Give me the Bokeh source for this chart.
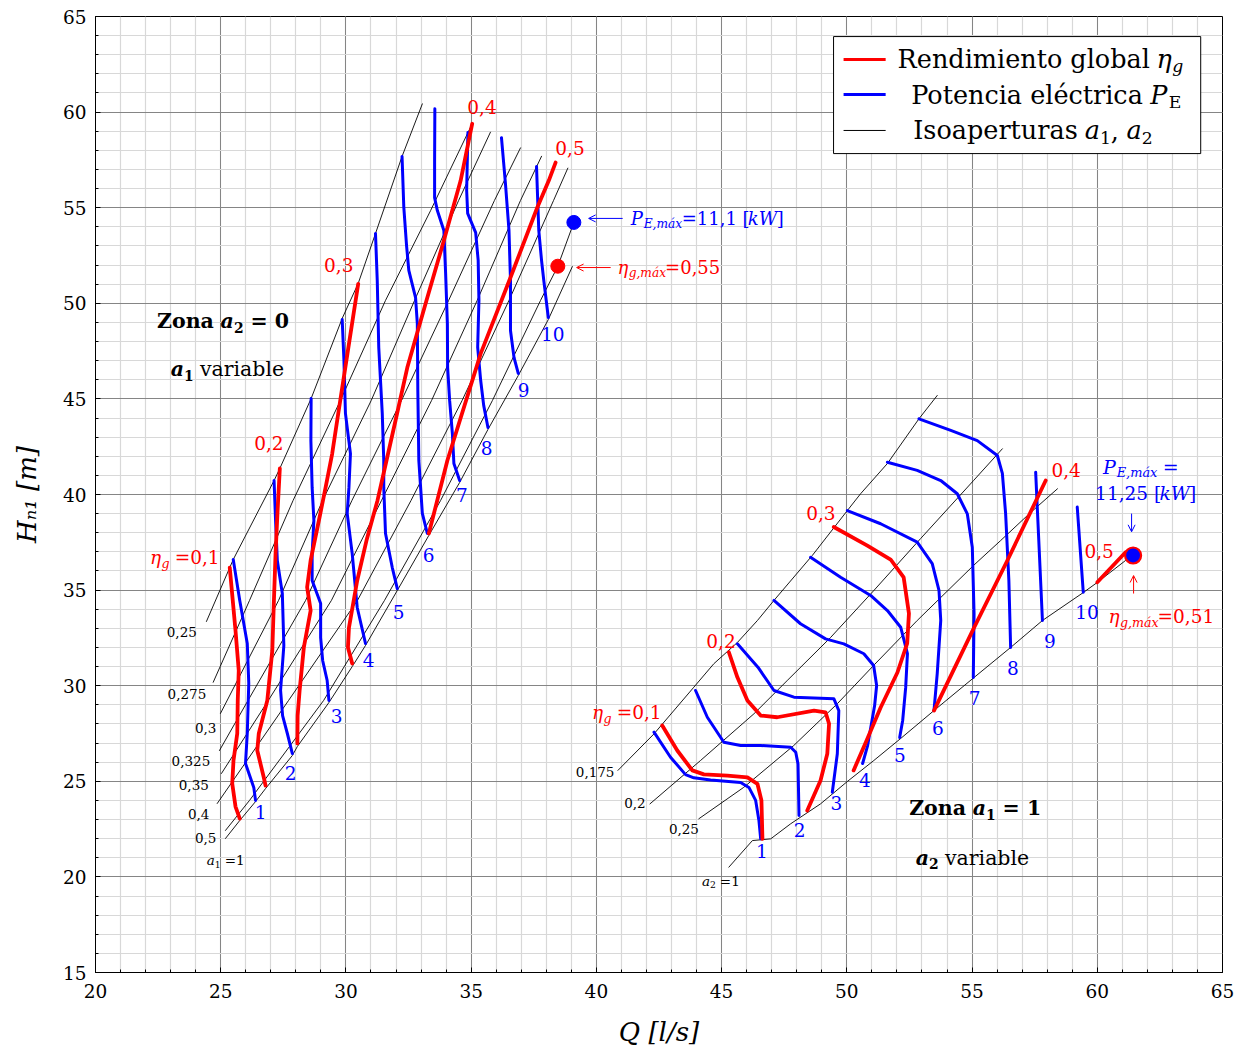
from bokeh.plotting import figure
from bokeh.models import SingleIntervalTicker, Range1d, Arrow, OpenHead
from bokeh.core.properties import value
from bokeh.embed import file_html
from bokeh.resources import INLINE

FONT = "DejaVu Serif"
RED = "#ff0000"
BLUE = "#0000ff"

# ---------------- Zona a2 = 0 (a1 variable) : Q [l/s], H [m] ----------------
# isoaperture lines a1
a1_0250 = [(24.43, 33.36), (25.50, 36.60), (27.13, 40.73), (27.36, 41.36), (28.61, 45.02), (29.85, 49.21),
           (30.49, 51.04), (31.18, 53.65), (32.24, 57.68), (33.05, 60.43)]
a1_0275 = [(24.70, 30.18), (26.15, 34.46), (27.89, 39.69), (29.78, 44.92), (31.58, 50.15), (33.38, 54.85),
           (35.04, 59.39)]
a1_0300 = [(24.99, 28.55), (27.31, 34.46), (29.07, 39.69), (31.01, 44.92), (32.74, 50.15), (34.50, 55.38),
           (35.77, 58.95)]
a1_0325 = [(24.95, 26.61), (26.09, 29.23), (28.39, 34.46), (30.24, 39.69), (32.22, 44.92), (34.10, 50.15),
           (35.93, 55.38), (36.97, 58.13)]
a1_0350 = [(25.03, 25.41), (26.90, 29.23), (29.42, 34.46), (31.42, 39.69), (33.42, 44.92), (35.24, 50.15),
           (36.97, 55.38), (37.81, 57.69)]
a1_0400 = [(24.86, 23.84), (27.71, 29.23), (30.46, 34.46), (32.60, 39.69), (34.64, 44.92), (36.51, 50.15),
           (38.29, 55.38), (38.86, 57.07)]
a1_0500 = [(25.19, 22.43), (26.15, 24.00), (29.11, 29.23), (31.54, 34.46), (33.78, 39.69), (35.85, 44.92),
           (37.77, 50.15), (38.46, 51.94), (39.10, 54.23)]
a1_1000 = [(25.19, 22.01), (25.76, 22.95), (26.39, 23.94), (26.79, 24.62), (27.86, 26.35), (28.06, 26.82),
           (29.32, 29.12), (30.25, 31.00), (30.78, 32.10), (32.05, 34.98), (33.31, 37.86), (34.54, 40.63),
           (35.67, 43.40), (36.88, 46.22), (38.08, 49.15), (39.04, 51.92)]

# electric power P_E [kW]
pe_a_1 = [(25.50, 36.60), (25.76, 34.46), (26.06, 32.21), (26.12, 30.12), (26.06, 27.50), (25.99, 25.93),
          (26.32, 24.68), (26.39, 24.00)]
pe_a_2 = [(27.13, 40.73), (27.19, 38.64), (27.26, 36.55), (27.46, 34.82), (27.52, 32.10), (27.39, 29.75),
          (27.47, 28.44), (27.66, 27.50), (27.86, 26.45)]
pe_a_3 = [(28.61, 45.02), (28.60, 42.82), (28.65, 40.37), (28.72, 38.64), (28.65, 36.91), (28.65, 35.50),
          (28.99, 34.30), (28.99, 32.52), (29.07, 31.32), (29.25, 30.27), (29.32, 29.23)]
pe_a_4 = [(29.85, 49.15), (29.92, 47.01), (29.98, 44.24), (30.18, 42.14), (30.12, 40.37), (30.05, 39.01),
          (30.25, 36.91), (30.45, 34.09), (30.78, 32.21)]
pe_a_5 = [(31.18, 53.65), (31.25, 51.19), (31.31, 47.69), (31.45, 44.24), (31.51, 41.78), (31.51, 40.37),
          (31.58, 37.96), (31.85, 36.18), (32.05, 35.08)]
pe_a_6 = [(32.24, 57.68), (32.31, 55.03), (32.42, 53.02), (32.51, 51.72), (32.78, 50.30), (32.85, 48.93),
          (32.87, 45.44), (32.91, 41.78), (33.05, 39.01), (33.25, 37.96)]
pe_a_7 = [(33.55, 60.17), (33.54, 57.47), (33.54, 55.53), (33.65, 54.85), (33.91, 53.81), (33.98, 51.56),
          (34.05, 48.93), (34.06, 46.64), (34.14, 44.92), (34.25, 43.19), (34.31, 41.62), (34.54, 40.73)]
pe_a_8 = [(34.87, 58.93), (34.82, 55.90), (34.86, 54.70), (35.18, 53.70), (35.28, 52.24), (35.31, 50.15),
          (35.26, 47.69), (35.38, 45.96), (35.50, 44.66), (35.67, 43.50)]
pe_a_9 = [(36.21, 58.66), (36.37, 56.25), (36.51, 53.81), (36.57, 51.19), (36.57, 48.58), (36.71, 47.17),
          (36.88, 46.33)]
pe_a_10 = [(37.61, 57.15), (37.65, 55.64), (37.70, 53.81), (37.81, 52.24), (37.90, 51.19), (38.08, 49.26)]

# global efficiency eta_g
eta_a_01 = [(25.36, 36.18), (25.59, 32.89), (25.72, 30.79), (25.68, 29.23), (25.66, 27.50), (25.51, 26.09),
            (25.46, 24.89), (25.59, 23.68), (25.76, 23.05)]
eta_a_02 = [(27.36, 41.36), (27.27, 39.16), (27.19, 36.91), (27.12, 34.30), (27.06, 31.84), (26.86, 29.23),
            (26.52, 27.50), (26.46, 26.61), (26.72, 25.20), (26.79, 24.78)]
eta_a_03 = [(30.49, 51.02), (30.06, 47.37), (29.65, 43.87), (29.45, 42.13), (29.19, 40.38), (28.92, 38.64),
            (28.59, 36.55), (28.45, 35.15), (28.59, 33.93), (28.32, 32.01), (28.15, 29.75), (28.07, 28.44),
            (28.06, 26.98)]
eta_a_04 = [(35.04, 59.39), (34.58, 56.42), (33.91, 53.28), (33.25, 50.30), (32.45, 46.64), (31.98, 43.87),
            (31.62, 41.78), (31.26, 39.69), (30.82, 37.59), (30.45, 35.50), (30.12, 33.04), (30.08, 32.00),
            (30.25, 31.16)]
eta_a_05 = [(38.37, 57.36), (38.10, 56.42), (37.64, 55.01), (36.57, 51.35), (35.38, 47.37), (34.05, 41.78),
            (33.31, 37.96)]

# maxima in zone a2 = 0
pe_max_a = (39.10, 54.23)
eta_max_a = (38.46, 51.94)

# ---------------- Zona a1 = 1 (a2 variable) ----------------
a2_0175 = [(40.86, 25.57), (42.30, 27.48), (43.89, 29.92), (44.69, 31.15), (45.63, 32.26), (46.43, 33.41),
           (47.09, 34.46), (48.62, 36.81), (50.02, 39.16), (50.55, 40.04), (51.62, 41.62), (52.88, 43.96),
           (53.61, 45.18)]
a2_0200 = [(42.14, 23.82), (44.16, 26.09), (46.29, 28.53), (47.62, 30.27), (49.35, 32.52), (51.08, 34.98),
           (52.95, 37.70), (55.06, 40.73), (56.21, 42.39)]
a2_0250 = [(44.09, 23.04), (45.88, 24.68), (47.88, 26.87), (49.63, 29.07), (51.07, 31.06), (52.81, 33.41),
           (55.06, 36.29), (56.14, 37.59), (57.34, 39.06), (58.41, 40.30)]
a2_1000 = [(45.29, 20.51), (46.23, 21.90), (46.96, 21.99), (47.76, 22.78), (48.95, 23.82), (50.02, 24.99),
           (51.08, 26.09), (52.15, 27.24), (53.48, 28.70), (55.08, 30.43), (56.54, 32.00), (57.81, 33.41),
           (59.44, 34.87), (60.00, 35.40), (61.13, 36.55), (61.43, 36.81)]

pe_b_1 = [(42.30, 27.57), (42.96, 26.26), (43.56, 25.35), (43.89, 25.18), (44.56, 25.07), (45.76, 24.94),
          (46.09, 24.68), (46.36, 24.00), (46.49, 22.95), (46.56, 21.99)]
pe_b_2 = [(43.96, 29.75), (44.43, 28.35), (45.09, 27.04), (45.76, 26.87), (46.56, 26.87), (47.76, 26.78),
          (47.96, 26.52), (48.05, 25.91), (48.09, 23.21)]
pe_b_3 = [(45.63, 32.19), (46.45, 30.97), (47.09, 29.75), (47.89, 29.40), (49.48, 29.32), (49.68, 28.70),
          (49.62, 26.44), (49.42, 24.43)]
pe_b_4 = [(47.09, 34.46), (48.15, 33.24), (49.15, 32.45), (49.88, 32.19), (50.68, 31.67), (51.07, 31.06),
          (51.19, 30.01), (51.11, 28.96), (50.83, 26.87), (50.63, 25.93)]
pe_b_5 = [(48.55, 36.72), (49.75, 35.67), (50.95, 34.72), (51.62, 33.93), (52.15, 33.06), (52.42, 31.68),
          (52.35, 29.91), (52.23, 28.18), (52.11, 27.29)]
pe_b_6 = [(50.02, 39.16), (51.35, 38.47), (52.81, 37.51), (53.41, 36.38), (53.68, 34.98), (53.75, 33.41),
          (53.61, 30.64), (53.48, 28.70)]
pe_b_7 = [(51.62, 41.69), (52.81, 41.26), (53.75, 40.73), (54.41, 40.04), (54.81, 38.99), (55.01, 37.24),
          (55.08, 33.76), (55.05, 30.43)]
pe_b_8 = [(52.88, 43.96), (54.15, 43.35), (55.21, 42.82), (56.01, 42.04), (56.21, 41.10), (56.34, 39.01),
          (56.47, 35.50), (56.54, 32.00)]
pe_b_9 = [(57.54, 41.17), (57.81, 33.41)]
pe_b_10 = [(59.20, 39.34), (59.44, 34.89)]

eta_b_01 = [(42.63, 27.92), (43.23, 26.61), (43.83, 25.57), (44.29, 25.36), (45.23, 25.30), (46.03, 25.21),
            (46.43, 24.87), (46.59, 24.00), (46.63, 21.99)]
eta_b_02 = [(45.29, 31.75), (45.63, 30.44), (46.03, 29.23), (46.56, 28.44), (47.22, 28.35), (48.69, 28.70),
            (49.15, 28.61), (49.29, 28.01), (49.22, 26.44), (48.95, 25.04), (48.42, 23.47)]
eta_b_03 = [(49.48, 38.30), (50.82, 37.33), (51.75, 36.60), (52.27, 35.66), (52.48, 33.78), (52.41, 32.21),
            (52.02, 30.69), (51.35, 28.86), (50.79, 27.13), (50.27, 25.57)]
eta_b_04 = [(57.94, 40.73), (56.41, 36.55), (55.08, 33.04), (53.48, 28.70)]
eta_b_05 = [(60.00, 35.41), (61.13, 36.98)]

max_b = (61.43, 36.81)

# ---------------- label anchors ----------------
lab_eta_a = [("0,2", 26.91, 42.67), ("0,3", 29.70, 51.98), ("0,4", 35.42, 60.29), ("0,5", 38.93, 58.10)]
lab_eta_b = [("0,2", 44.96, 32.36), ("0,3", 48.95, 39.01), ("0,4", 58.74, 41.26), ("0,5", 60.06, 37.07)]
lab_pe_a = [("1", 26.59, 23.37), ("2", 27.79, 25.41), ("3", 29.62, 28.39), ("4", 30.90, 31.37),
            ("5", 32.10, 33.88), ("6", 33.30, 36.86), ("7", 34.62, 40.00), ("8", 35.61, 42.41),
            ("9", 37.09, 45.44), ("10", 38.25, 48.42)]
lab_pe_b = [("1", 46.60, 21.38), ("2", 48.11, 22.43), ("3", 49.58, 23.89), ("4", 50.71, 25.09),
            ("5", 52.11, 26.40), ("6", 53.63, 27.81), ("7", 55.10, 29.38), ("8", 56.62, 30.90),
            ("9", 58.10, 32.36), ("10", 59.58, 33.83)]
lab_a1 = [("0,25", 23.43, 32.83), ("0,275", 23.63, 29.59), ("0,3", 24.39, 27.81), ("0,325", 23.79, 26.04),
          ("0,35", 23.91, 24.83), ("0,4", 24.11, 23.31), ("0,5", 24.39, 22.01)]
lab_a2 = [("0,175", 39.93, 25.51), ("0,2", 41.53, 23.84), ("0,25", 43.48, 22.53)]

p = figure(width=1249, height=1053, x_range=Range1d(20, 65), y_range=Range1d(15, 65),
           output_backend="svg", toolbar_location=None,
           min_border_left=95, min_border_right=27, min_border_top=16, min_border_bottom=81)
p.background_fill_color = "white"
p.border_fill_color = "white"
p.outline_line_color = "black"
p.outline_line_width = 1

for ax, g in ((p.xaxis, p.xgrid), (p.yaxis, p.ygrid)):
    t = SingleIntervalTicker(interval=5, num_minor_ticks=5)
    ax.ticker = t
    g.ticker = t
    g.grid_line_color = "#858585"
    g.grid_line_width = 1
    g.minor_grid_line_color = "#d8d8d8"
    g.minor_grid_line_width = 1.2

p.axis.major_label_text_font = FONT
p.axis.major_label_text_font_size = "18.5px"
p.axis.major_tick_in = 5
p.axis.major_tick_out = 0
p.axis.minor_tick_in = 3
p.axis.minor_tick_out = 0
p.axis.axis_line_color = "black"
p.axis.major_label_text_color = "black"
p.axis.axis_label_text_font = FONT
p.axis.axis_label_text_font_size = "26px"
p.axis.axis_label_text_font_style = "italic"
p.axis.axis_label_text_color = "black"
p.xaxis.axis_label = "Q [l/s]"
p.yaxis.axis_label = "Hₙ₁ [m]"
p.xaxis.major_label_standoff = 11
p.yaxis.major_label_standoff = 9
p.xaxis.axis_label_standoff = 16
p.yaxis.axis_label_standoff = 18


def curve(pts, color, width):
    p.line([q for q, h in pts], [h for q, h in pts], line_color=color, line_width=width,
           line_join="round", line_cap="round")


for c in (a1_0250, a1_0275, a1_0300, a1_0325, a1_0350, a1_0400, a1_0500, a1_1000,
          a2_0175, a2_0200, a2_0250, a2_1000):
    curve(c, "black", 0.9)
for c in (pe_a_1, pe_a_2, pe_a_3, pe_a_4, pe_a_5, pe_a_6, pe_a_7, pe_a_8, pe_a_9, pe_a_10,
          pe_b_1, pe_b_2, pe_b_3, pe_b_4, pe_b_5, pe_b_6, pe_b_7, pe_b_8, pe_b_9, pe_b_10):
    curve(c, BLUE, 3)
for c in (eta_a_01, eta_a_02, eta_a_03, eta_a_04, eta_a_05,
          eta_b_01, eta_b_02, eta_b_03, eta_b_04, eta_b_05):
    curve(c, RED, 3.8)

p.scatter([pe_max_a[0]], [pe_max_a[1]], size=14, fill_color=BLUE, line_color=BLUE)
p.scatter([eta_max_a[0]], [eta_max_a[1]], size=14, fill_color=RED, line_color=RED)
p.scatter([max_b[0]], [max_b[1]], size=16, fill_color=BLUE, line_color=RED, line_width=2.2)

# pointer arrows next to the maxima
for (x0, y0, x1, y1), col in (((41.05, 54.44, 39.69, 54.44), BLUE), ((40.57, 51.87, 39.21, 51.87), RED),
                              ((61.37, 39.00, 61.37, 38.05), BLUE), ((61.45, 34.82, 61.45, 35.76), RED)):
    p.add_layout(Arrow(end=OpenHead(size=7, line_color=col, line_width=1), x_start=x0, y_start=y0,
                       x_end=x1, y_end=y1, line_color=col, line_width=1))

# ---------------- text helpers ----------------
CW = {",": 0.318, ".": 0.318, " ": 0.318, "=": 0.838, "[": 0.39, "]": 0.39, "/": 0.337,
      "i": 0.32, "l": 0.32, "t": 0.402, "r": 0.478, "s": 0.513, "m": 0.951, "W": 1.03,
      "η": 0.64, "v": 0.565, "x": 0.564, "c": 0.56, "I": 0.47}
for d in "0123456789":
    CW[d] = 0.636


def _w(s, size, bold=False):
    w = 0.0
    for ch in s:
        w += CW.get(ch, 0.74 if ch.isupper() else 0.61)
    return 0.975 * w * size * (1.1 if bold else 1.0)


def rich(x, y, parts, color, size, align="left"):
    items = []
    for txt, style, sub in parts:
        sz = size * (0.68 if sub else 1.0)
        dy = size * 0.3 if sub else 0.0
        items.append((txt, style, sz, dy, _w(txt, sz, "bold" in style)))
    total = sum(it[4] for it in items)
    cx = {"left": 0.0, "center": -total / 2.0, "right": -total}[align]
    for txt, style, sz, dy, w in items:
        core = txt.strip(" ")
        lead = len(txt) - len(txt.lstrip(" "))
        if core:
            p.text(x=[x], y=[y], text=[core], x_offset=cx + _w(" " * lead, sz, "bold" in style),
                   y_offset=dy, text_font=value(FONT), text_font_size=f"{sz:.1f}px",
                   text_font_style=style, text_color=color, text_align="left",
                   text_baseline="middle")
        cx += w


def plain_right(x, y, txt, color, size):
    p.text(x=[x], y=[y], text=[txt], text_font=value(FONT), text_font_size=f"{size}px",
           text_color=color, text_align="right", text_baseline="middle")


for s, q, h in lab_eta_a + lab_eta_b:
    rich(q, h, [(s, "normal", False)], RED, 18.5, "center")
for s, q, h in lab_pe_a + lab_pe_b:
    rich(q, h, [(s, "normal", False)], BLUE, 18.5, "center")
for s, q, h in lab_a1 + lab_a2:
    rich(q, h, [(s, "normal", False)], "black", 13.5, "center")

rich(25.19, 20.86, [("a", "italic", False), ("1", "normal", True), (" =1", "normal", False)], "black", 13.5, "center")
rich(44.96, 19.81, [("a", "italic", False), ("2", "normal", True), (" =1", "normal", False)], "black", 13.5, "center")

for q, h in ((24.91, 36.70), (42.56, 28.60)):
    rich(q, h, [("η", "italic", False), ("g", "italic", True), (" =0,1", "normal", False)], RED, 18.5, "right")

rich(41.37, 54.44, [("P", "italic", False), ("E,máx", "italic", True),
                    ("=11,1 [", "normal", False), ("kW", "italic", False), ("]", "normal", False)], BLUE, 18)
rich(40.84, 51.87, [("η", "italic", False), ("g,máx", "italic", True), ("=0,55", "normal", False)], RED, 18)

rich(61.73, 41.46, [("P", "italic", False), ("E,máx", "italic", True), (" =", "normal", False)], BLUE, 19, "center")
rich(61.93, 40.05, [("11,25 [", "normal", False), ("kW", "italic", False), ("]", "normal", False)], BLUE, 18.5, "center")
rich(62.53, 33.62, [("η", "italic", False), ("g,máx", "italic", True), ("=0,51", "normal", False)], RED, 18.5, "center")

rich(25.11, 49.05, [("Zona ", "bold", False), ("a", "bold italic", False), ("2", "bold", True),
                    (" = 0", "bold", False)], "black", 20.5, "center")
rich(25.23, 46.54, [("a", "bold italic", False), ("1", "bold", True), (" variable", "normal", False)],
     "black", 20.5, "center")
rich(55.14, 23.58, [("Zona ", "bold", False), ("a", "bold italic", False), ("1", "bold", True),
                    (" = 1", "bold", False)], "black", 20.5, "center")
rich(54.98, 21.01, [("a", "bold italic", False), ("2", "bold", True), (" variable", "normal", False)],
     "black", 20.5, "center")

# ---------------- legend ----------------
p.quad(left=[49.47], right=[64.13], top=[63.95], bottom=[57.83], fill_color="white",
       line_color="black", line_width=1)
for hy, col, lw in ((62.75, RED, 3), (60.92, BLUE, 3), (59.04, "black", 1)):
    p.line([49.87, 51.55], [hy, hy], line_color=col, line_width=lw)
plain_right(62.10, 62.80, "Rendimiento global", "black", 25.5)
rich(62.36, 62.80, [("η", "italic", False), ("g", "italic", True)], "black", 25.5)
plain_right(61.82, 60.92, "Potencia eléctrica", "black", 25.5)
rich(62.12, 60.92, [("P", "italic", False), ("E", "normal", True)], "black", 25.5)
plain_right(59.22, 59.04, "Isoaperturas", "black", 25.5)
rich(59.50, 59.04, [("a", "italic", False), ("1", "normal", True),
                    (", ", "normal", False), ("a", "italic", False), ("2", "normal", True)], "black", 25.5)

open("out.html", "w").write(file_html(p, INLINE))
